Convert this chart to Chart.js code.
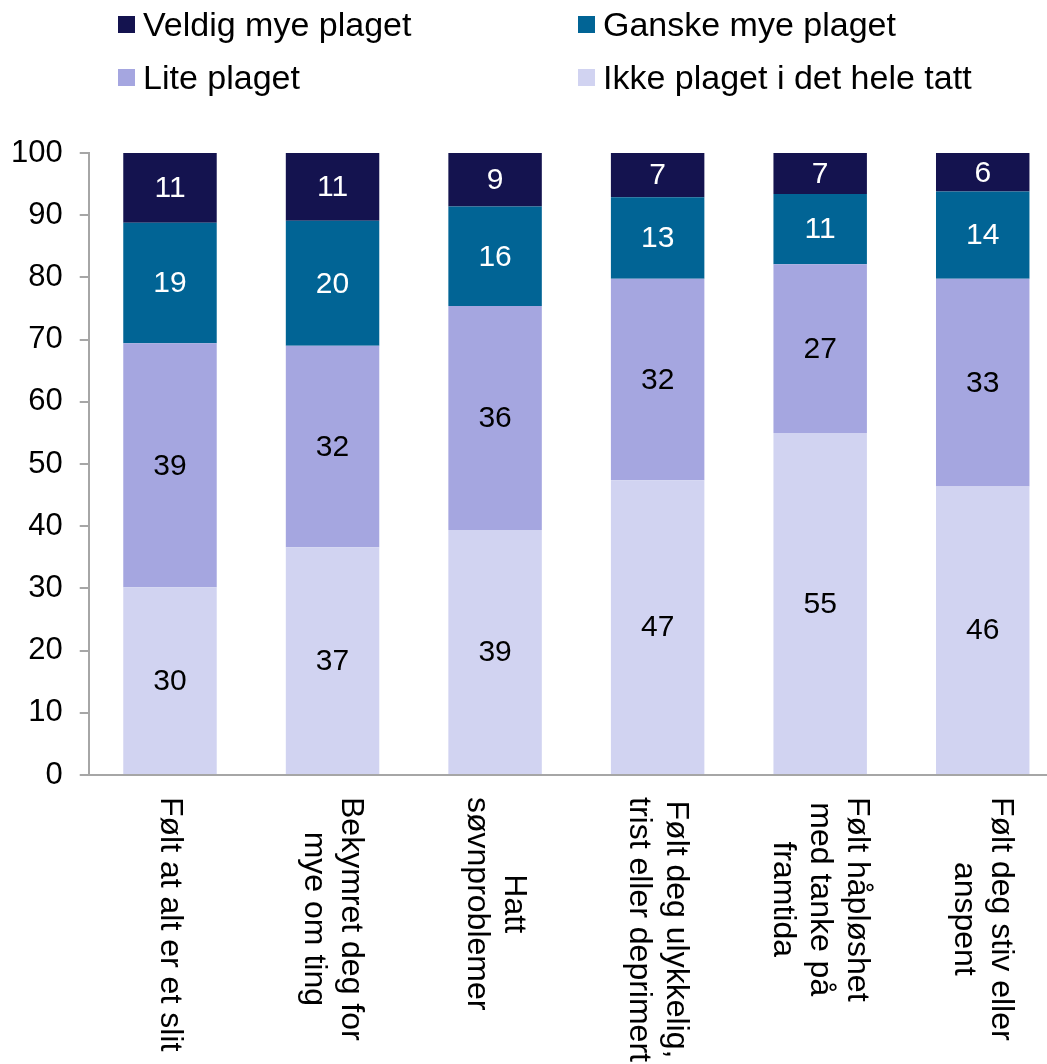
<!DOCTYPE html>
<html>
<head>
<meta charset="utf-8">
<script src="https://cdn.jsdelivr.net/npm/chart.js@4/dist/chart.umd.min.js"></script>
<style>
  body { margin: 0; background: #fff; overflow: hidden; font-family: "Liberation Sans", Arial, sans-serif; }
  #wrap { position: relative; width: 1064px; height: 1064px; }
  .leg { position: absolute; display: flex; align-items: center; font-size: 34px; color: #000; white-space: nowrap; }
  .leg span.box { width: 17px; height: 17px; margin-right: 8px; display: inline-block; }
</style>
</head>
<body>
<div id="wrap">
  <canvas id="grafico" width="1064" height="1064"></canvas>
  <div id="leyenda"></div>
</div>
<script>
const categorias = [
  ["Følt at alt er et slit"],
  ["Bekymret deg for", "mye om ting"],
  ["Hatt", "søvnproblemer"],
  ["Følt deg ulykkelig,", "trist eller deprimert"],
  ["Følt håpløshet", "med tanke på", "framtida"],
  ["Følt deg stiv eller", "anspent"]
]
const serieNavn = ["Ikke plaget i det hele tatt", "Lite plaget", "Ganske mye plaget", "Veldig mye plaget"]
const ikkePlaget = [30.2, 36.6, 39.4, 47.4, 55.0, 46.4]
const litePlaget = [39.2, 32.4, 36.0, 32.4, 27.1, 33.4]
const ganskeMye = [19.4, 20.1, 16.0, 13.1, 11.3, 14.0]
const veldigMye = [11.2, 10.9, 8.6, 7.1, 6.6, 6.2]
const yTicks = [0, 10, 20, 30, 40, 50, 60, 70, 80, 90, 100]

const farger = ["#d1d3f1", "#a5a6e0", "#016495", "#14134f"]
const tekstFarger = ["#000", "#000", "#fff", "#fff"]
const fontFam = "'Liberation Sans', Arial, sans-serif"

// legend som html, to kolonner
const leyenda = document.querySelector("#leyenda")
const plassering = [
  {navn: 3, left: 118, top: 4},
  {navn: 2, left: 578, top: 4},
  {navn: 1, left: 118, top: 57},
  {navn: 0, left: 578, top: 57}
]
plassering.forEach((p) => {
  leyenda.innerHTML += `<div class="leg" style="left:${p.left}px;top:${p.top}px;height:40px">
    <span class="box" style="background:${farger[p.navn]}"></span>${serieNavn[p.navn]}</div>`
})

// tall midt i hver stolpe
const verdiEtiketter = {
  id: "verdiEtiketter",
  afterDatasetsDraw(chart) {
    const ctx = chart.ctx
    ctx.save()
    ctx.font = `30px ${fontFam}`
    ctx.textAlign = "center"
    ctx.textBaseline = "middle"
    chart.data.datasets.forEach((ds, i) => {
      const meta = chart.getDatasetMeta(i)
      meta.data.forEach((bar, j) => {
        const p = bar.getProps(["x", "y", "base"], true)
        ctx.fillStyle = tekstFarger[i]
        ctx.fillText(Math.round(ds.data[j]), p.x, (p.y + p.base) / 2 + 1)
      })
    })
    ctx.restore()
  }
}

// kategorinavn rotert 90 grader med klokka
const xEtiketter = {
  id: "xEtiketter",
  afterDraw(chart) {
    const ctx = chart.ctx
    const xScale = chart.scales.x
    const lh = 37
    ctx.save()
    ctx.font = `32px ${fontFam}`
    ctx.fillStyle = "#000"
    ctx.textAlign = "center"
    ctx.textBaseline = "middle"
    categorias.forEach((linjer, i) => {
      const x = xScale.getPixelForValue(i)
      const bredde = Math.max(...linjer.map((l) => ctx.measureText(l).width))
      ctx.save()
      ctx.translate(x, chart.chartArea.bottom + 22)
      ctx.rotate(Math.PI / 2)
      linjer.forEach((l, j) => {
        ctx.fillText(l, bredde / 2, (j - (linjer.length - 1) / 2) * lh)
      })
      ctx.restore()
    })
    ctx.restore()
  }
}

const datasets = [ikkePlaget, litePlaget, ganskeMye, veldigMye].map((d, i) => ({
  label: serieNavn[i],
  data: d,
  backgroundColor: farger[i],
  borderWidth: 0,
  categoryPercentage: 1,
  barPercentage: 0.575
}))

const config = {
  type: "bar",
  data: {
    labels: categorias.map((c) => c.join(" ")),
    datasets: datasets
  },
  options: {
    responsive: false,
    animation: false,
    layout: { padding: { top: 153, left: -6, right: 0, bottom: 281 } },
    plugins: {
      legend: { display: false },
      tooltip: { enabled: false }
    },
    scales: {
      x: {
        stacked: true,
        grid: { display: false },
        border: { display: true, color: "#a6a6a6", width: 2 },
        ticks: { display: false }
      },
      y: {
        stacked: true,
        min: 0,
        max: 100,
        afterBuildTicks: (axis) => { axis.ticks = yTicks.map((v) => ({ value: v })) },
        grid: { display: true, drawOnChartArea: false, drawTicks: true, tickLength: 9, color: "#a6a6a6", lineWidth: 2 },
        border: { display: true, color: "#a6a6a6", width: 2 },
        ticks: { color: "#000", padding: 17, font: { family: fontFam, size: 31 } }
      }
    }
  },
  plugins: [verdiEtiketter, xEtiketter]
}

const myChart = document.getElementById("grafico")
let grafico = new Chart(myChart, config)
</script>
</body>
</html>
